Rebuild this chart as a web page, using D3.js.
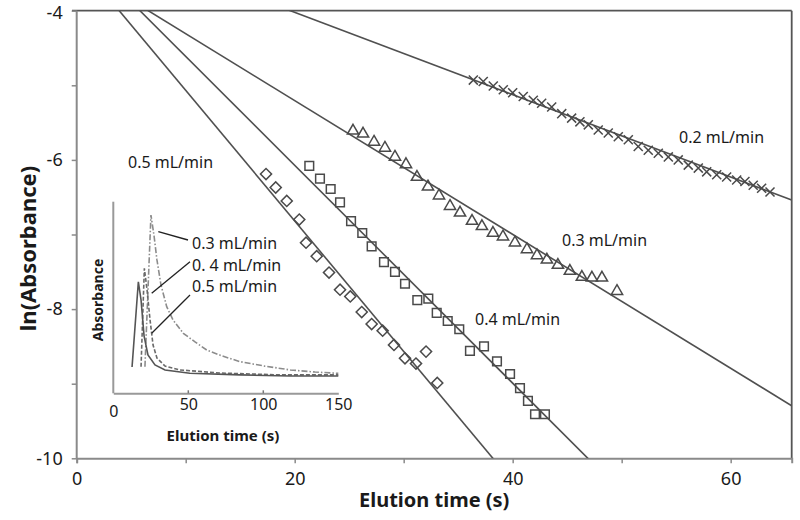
<!DOCTYPE html>
<html><head><meta charset="utf-8">
<script src="https://cdn.jsdelivr.net/npm/d3@7"></script>
<style>
body{margin:0;background:#fff}
text{font-family:"Noto Sans","Open Sans",sans-serif;fill:#1a1a1a}
</style>
</head><body>
<svg id="c" width="800" height="520"></svg>
<script>
// ---------- main data ----------
const seriesNames = ["0.2 mL/min", "0.3 mL/min", "0.4 mL/min", "0.5 mL/min"];
const crossT = [36.39,37.30,38.22,39.14,40.00,40.97,41.89,42.66,43.58,44.50,45.41,46.17,46.94,47.85,48.77,49.69,50.61,51.52,52.44,53.36,54.28,55.19,56.11,57.03,57.80,58.72,59.63,60.55,61.31,62.07,62.84,63.61];
const crossV = [-4.93,-4.95,-5.01,-5.06,-5.10,-5.15,-5.20,-5.24,-5.29,-5.38,-5.44,-5.49,-5.53,-5.60,-5.64,-5.69,-5.73,-5.82,-5.87,-5.91,-5.96,-6.00,-6.07,-6.11,-6.16,-6.20,-6.23,-6.27,-6.29,-6.34,-6.38,-6.43];
const triT = [25.35,26.27,27.28,28.28,29.20,30.21,31.22,32.23,33.24,34.25,35.17,36.27,37.18,38.19,39.11,40.21,41.31,42.23,43.14,44.15,45.25,46.35,47.27,48.19,49.57];
const triV = [-5.61,-5.65,-5.76,-5.84,-5.96,-6.06,-6.23,-6.36,-6.48,-6.62,-6.71,-6.82,-6.89,-6.98,-7.03,-7.11,-7.20,-7.28,-7.34,-7.41,-7.49,-7.57,-7.58,-7.58,-7.76];
const sqT = [21.34,22.32,23.30,24.16,25.17,26.20,27.06,28.19,29.20,30.12,31.25,32.26,33.03,34.04,35.10,36.08,37.37,38.56,39.76,40.67,41.40,42.05,42.96];
const sqV = [-6.08,-6.25,-6.39,-6.57,-6.82,-6.98,-7.16,-7.37,-7.50,-7.66,-7.88,-7.86,-8.05,-8.16,-8.27,-8.56,-8.50,-8.70,-8.87,-9.06,-9.23,-9.41,-9.41];
const diaT = [17.37,18.26,19.27,20.42,21.04,22.02,23.15,24.16,25.10,26.15,27.06,28.07,29.11,30.12,31.13,32.05,33.08];
const diaV = [-6.19,-6.37,-6.55,-6.80,-7.11,-7.29,-7.51,-7.74,-7.83,-8.04,-8.20,-8.29,-8.48,-8.66,-8.73,-8.57,-8.99];
// linear fits: ln(A) = intercept + slope * t
const fitIntercept = [-2.918, -3.411, -3.153, -3.3175];
const fitSlope = [-0.0552, -0.0897, -0.146, -0.175];
const xTicks = [0,10,20,30,40,50,60];
const xTickLabels = [0,20,40,60];
const yTicks = [-10,-9,-8,-7,-6,-5,-4];
const yTickLabels = [-10,-8,-6,-4];

// ---------- inset data ----------
const insetNames = ["0.3 mL/min", "0. 4 mL/min", "0.5 mL/min"];
const in03T = [21.1,25.1,27.1,29.1,31.8,35.6,39.8,46.7,54.5,62.3,72.5,84.5,101,118,134.5,150];
const in03A = [0.139,0.93,0.826,0.696,0.565,0.452,0.383,0.313,0.268,0.226,0.195,0.165,0.142,0.122,0.111,0.104];
const in04T = [18.5,20.7,22.5,24.5,26.5,29.1,34.5,44.5,71,111,150];
const in04A = [0.139,0.652,0.54,0.383,0.252,0.184,0.142,0.122,0.106,0.096,0.096];
const in05T = [12.5,16.7,18.5,20.5,23.1,27.8,34.5,51,84.5,118,150];
const in05A = [0.137,0.582,0.487,0.30,0.20,0.148,0.122,0.105,0.096,0.09,0.09];
const inXTicks = [0,50,100,150];

// ---------- drawing ----------
const svg = d3.select("#c");
const L = 76.7, R = 791.7, T = 10.7, B = 458.3;
const x = d3.scaleLinear().domain([0, 65.6]).range([L, R]);
const y = d3.scaleLinear().domain([-10, -4]).range([B, T]);

svg.append("defs").append("clipPath").attr("id","clip")
  .append("rect").attr("x",L).attr("y",T).attr("width",R-L).attr("height",B-T);

// frame top/right
svg.append("line").attr("x1",72).attr("x2",R).attr("y1",T).attr("y2",T).attr("stroke","#555").attr("stroke-width",1.8);
svg.append("line").attr("x1",R).attr("x2",R).attr("y1",T).attr("y2",B).attr("stroke","#555").attr("stroke-width",1.8);

// axes
const xAxis = d3.axisBottom(x).tickValues(xTicks).tickSize(5).tickPadding(9)
  .tickFormat(d => xTickLabels.includes(d) ? d : "");
const gx = svg.append("g").attr("transform",`translate(0,${B})`).call(xAxis);
const yAxis = d3.axisLeft(y).tickValues(yTicks).tickSize(5).tickPadding(9)
  .tickFormat(d => yTickLabels.includes(d) ? d : "");
const gy = svg.append("g").attr("transform",`translate(${L},0)`).call(yAxis);
[gx, gy].forEach(g => {
  g.select(".domain").attr("stroke","#8a8a8a").attr("stroke-width",2);
  g.selectAll(".tick line").attr("stroke","#8a8a8a").attr("stroke-width",1.5);
  g.selectAll(".tick text").attr("font-size",18).attr("font-family","Noto Sans").attr("fill","#1a1a1a");
});
gy.select(".domain").attr("d", `M0,${B}V${T}`);
gy.selectAll(".tick text").attr("dy", d => d === -4 ? "0.45em" : "0.32em");

svg.append("text").attr("x",(L+R)/2).attr("y",507).attr("text-anchor","middle")
  .attr("font-size",20).attr("font-weight","bold").text("Elution time (s)");
svg.append("text").attr("transform",`translate(36,${(T+B)/2 + 14}) rotate(-90)`).attr("text-anchor","middle")
  .attr("font-size",22).attr("font-weight","bold").text("ln(Absorbance)");

// fit lines
const plot = svg.append("g").attr("clip-path","url(#clip)");
fitSlope.forEach((s,i) => {
  const t0 = 0, t1 = 65.6;
  plot.append("line")
    .attr("x1",x(t0)).attr("y1",y(fitIntercept[i] + s*t0))
    .attr("x2",x(t1)).attr("y2",y(fitIntercept[i] + s*t1))
    .attr("stroke","#505050").attr("stroke-width",1.6);
});

// markers
const mk = "#4a4a4a";
function drawPts(ts, vs, type, size, rot){
  const sym = d3.symbol().type(type).size(size);
  svg.append("g").selectAll("path").data(ts).join("path")
    .attr("d", sym)
    .attr("transform",(d,i)=>`translate(${x(d)},${y(vs[i])}) rotate(${rot})`)
    .attr("fill","none").attr("stroke",mk).attr("stroke-width",1.5);
}
drawPts(crossT, crossV, d3.symbolTimes, 55, 0);
drawPts(triT, triV, d3.symbolTriangle, 55, 0);
drawPts(sqT, sqV, d3.symbolSquare, 75, 0);
drawPts(diaT, diaV, d3.symbolSquare, 62, 45);

// series labels
const lblPos = [[679,142.5],[562,245.5],[475,325],[128,167.5]];
seriesNames.forEach((n,i)=>{
  svg.append("text").attr("x",lblPos[i][0]).attr("y",lblPos[i][1]).attr("font-size",16).text(n);
});

// ---------- inset ----------
const ix = d3.scaleLinear().domain([0,150]).range([113.3, 338.3]);
const iy = d3.scaleLinear().domain([0,1]).range([393.3, 201.7]);
const ig = svg.append("g");
ig.append("line").attr("x1",ix(0)).attr("x2",ix(0)).attr("y1",iy(1)).attr("y2",iy(0)).attr("stroke","#999").attr("stroke-width",2);
const ixAxis = d3.axisBottom(ix).tickValues(inXTicks).tickSize(0).tickPadding(5);
const gix = ig.append("g").attr("transform",`translate(0,${iy(0)})`).call(ixAxis);
gix.select(".domain").attr("stroke","#999").attr("stroke-width",2);
gix.selectAll(".tick text").attr("font-size",16).attr("font-family","Noto Sans").attr("fill","#1a1a1a")
  .attr("dy", d => d === 0 ? "1.15em" : "0.71em");
ig.selectAll(".mtick").data(inXTicks.slice(1,3)).join("line")
  .attr("x1",d=>ix(d)).attr("x2",d=>ix(d)).attr("y1",iy(0)-3).attr("y2",iy(0)).attr("stroke","#777").attr("stroke-width",1.5);
ig.append("text").attr("x",223).attr("y",441).attr("text-anchor","middle")
  .attr("font-size",15).attr("font-weight","bold").text("Elution time (s)");
ig.append("text").attr("transform","translate(103,300) rotate(-90)").attr("text-anchor","middle")
  .attr("font-size",14).attr("font-weight","bold").text("Absorbance");

const iline = d3.line().x(d=>ix(d[0])).y(d=>iy(d[1]));
const curves = [
  {t:in03T, a:in03A, c:"#8c8c8c", dash:"6,2,1.5,2"},
  {t:in04T, a:in04A, c:"#6a6a6a", dash:"4,2"},
  {t:in05T, a:in05A, c:"#555", dash:null}
];
curves.forEach(cv=>{
  ig.append("path").attr("d", iline(cv.t.map((t,i)=>[t,cv.a[i]])))
    .attr("fill","none").attr("stroke",cv.c).attr("stroke-width",1.6)
    .attr("stroke-dasharray",cv.dash);
});
// inset labels & leaders
const inLbl = [[190,248.5],[190,270.5],[190,292]];
const leaders = [[[188,240],[158.3,231.7]],[[190,261.7],[151.7,293.3]],[[190,295],[151.7,333.3]]];
insetNames.forEach((n,i)=>{
  ig.append("text").attr("x",inLbl[i][0]+2).attr("y",inLbl[i][1]).attr("font-size",16).text(n);
  ig.append("line").attr("x1",leaders[i][0][0]).attr("y1",leaders[i][0][1])
    .attr("x2",leaders[i][1][0]).attr("y2",leaders[i][1][1]).attr("stroke","#222").attr("stroke-width",1.3);
});
</script>
</body></html>
